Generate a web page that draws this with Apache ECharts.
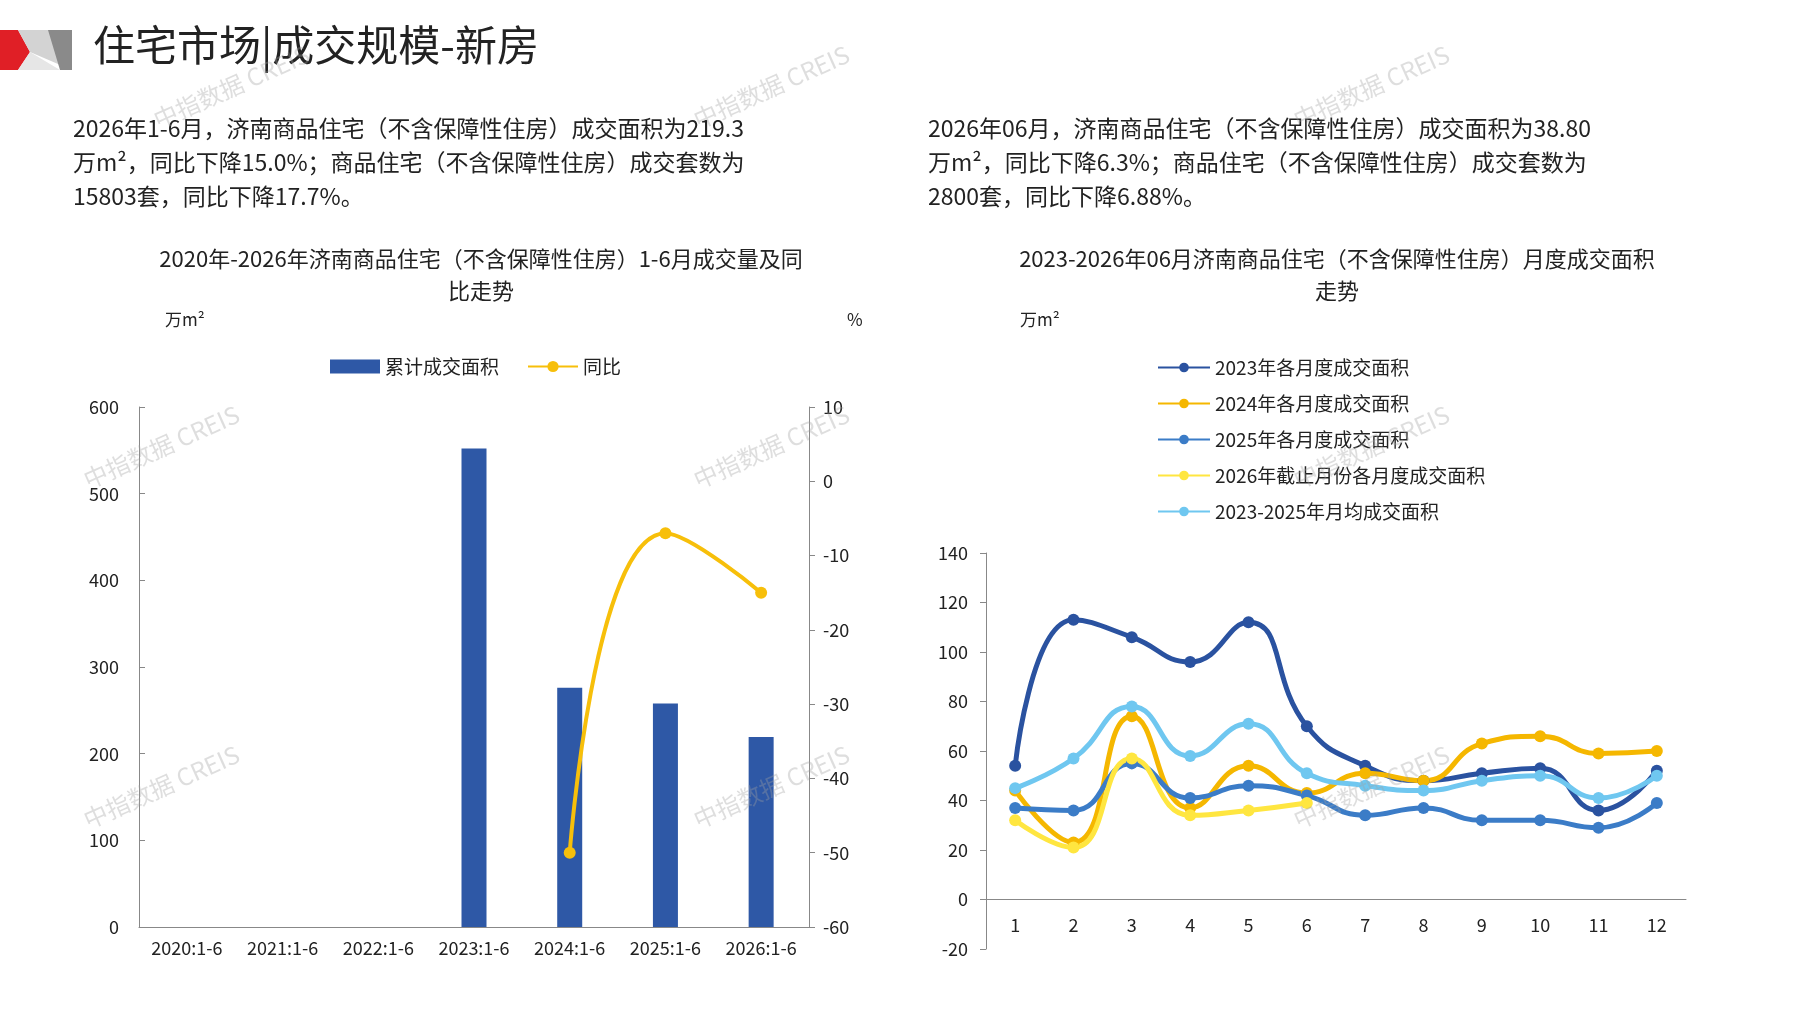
<!DOCTYPE html>
<html>
<head>
<meta charset="utf-8">
<script src="https://cdn.jsdelivr.net/npm/echarts@6/dist/echarts.min.js"></script>
<style>html,body{margin:0;padding:0;background:#fff;}#main{width:1797px;height:1010px;}</style>
</head>
<body>
<div id="main"></div>
<script>
var periods = ['2020:1-6', '2021:1-6', '2022:1-6', '2023:1-6', '2024:1-6', '2025:1-6', '2026:1-6'];
var areaTotal = [null, null, null, 552, 276, 258, 219.3];
var yoy = [null, null, null, null, -50, -7, -15];

var months = ['1', '2', '3', '4', '5', '6', '7', '8', '9', '10', '11', '12'];
var m2023 = [54, 113, 106, 96, 112, 70, 54, 48, 51, 53, 36, 52];
var m2024 = [44, 23, 74, 37, 54, 43, 51, 48, 63, 66, 59, 60];
var m2025 = [37, 36, 55, 41, 46, 42, 34, 37, 32, 32, 29, 39];
var m2026 = [32, 21, 57, 34, 36, 39];
var mAvg = [45, 57, 78, 58, 71, 51, 46, 44, 48, 50, 41, 50];

var FONT = '"Noto Sans CJK SC", sans-serif';
var chart = echarts.init(document.getElementById('main'));

function lineSeries(name, data, color) {
	return {
		name: name, type: 'line', xAxisIndex: 1, yAxisIndex: 2, data: data, smooth: 0.5,
		symbol: 'circle', symbolSize: 12, lineStyle: {width: 5, color: color},
		itemStyle: {color: color}
	};
}

function txt(x, y, s, size, align, color) {
	return {type: 'text', x: x, y: y, style: {text: s, font: size + 'px ' + FONT, fill: color || '#222', align: align || 'left', textAlign: align || 'left'}};
}

var wm = [];
[[80, 470], [80, 810], [690, 470], [690, 810], [1290, 470], [1290, 810], [150, 110], [690, 110], [1290, 110]].forEach(function (p) {
	wm.push({type: 'text', x: p[0], y: p[1], rotation: Math.PI / 7.5, z: 100,
		style: {text: '中指数据 CREIS', font: '24px ' + FONT, fill: 'rgba(160,160,160,0.35)'}});
});

var option = {
	animation: false,
	textStyle: {fontFamily: FONT},
	legend: [
		{data: [{name: '累计成交面积', icon: 'rect'}, {name: '同比'}], left: 325, top: 352, itemWidth: 50, itemHeight: 14, itemGap: 28,
			textStyle: {fontSize: 19, color: '#222'}},
		{data: ['2023年各月度成交面积', '2024年各月度成交面积', '2025年各月度成交面积', '2026年截止月份各月度成交面积', '2023-2025年月均成交面积'],
			orient: 'vertical', left: 1152, top: 353, itemWidth: 52, itemHeight: 12, itemGap: 17, textStyle: {fontSize: 19, color: '#222'}}
	],
	grid: [
		{left: 139, top: 407, width: 670, height: 520},
		{left: 986, top: 553, width: 700, height: 396}
	],
	xAxis: [
		{type: 'category', gridIndex: 0, data: periods, axisLine: {lineStyle: {color: '#888'}},
			axisTick: {lineStyle: {color: '#888'}, length: 6}, axisLabel: {fontSize: 18, color: '#222', margin: 12}},
		{type: 'category', gridIndex: 1, data: months, axisLine: {onZero: true, lineStyle: {color: '#888'}},
			axisTick: {lineStyle: {color: '#888'}, length: 6}, axisLabel: {fontSize: 18, color: '#222', margin: -33}}
	],
	yAxis: [
		{type: 'value', gridIndex: 0, min: 0, max: 600, interval: 100, splitLine: {show: false},
			axisLine: {show: true, lineStyle: {color: '#888'}}, axisTick: {show: true, inside: true, length: 6, lineStyle: {color: '#888'}},
			axisLabel: {fontSize: 18, color: '#222', margin: 20}},
		{type: 'value', gridIndex: 0, min: -60, max: 10, interval: 10, position: 'right', splitLine: {show: false},
			axisLine: {show: true, lineStyle: {color: '#888'}}, axisTick: {show: true, length: 6, lineStyle: {color: '#888'}},
			axisLabel: {fontSize: 18, color: '#222', margin: 14}},
		{type: 'value', gridIndex: 1, min: -20, max: 140, interval: 20, splitLine: {show: false},
			axisLine: {show: true, lineStyle: {color: '#888'}}, axisTick: {show: true, length: 6, lineStyle: {color: '#888'}},
			axisLabel: {fontSize: 18, color: '#222', margin: 18}}
	],
	series: [
		{name: '累计成交面积', type: 'bar', xAxisIndex: 0, yAxisIndex: 0, data: areaTotal, barWidth: 25, itemStyle: {color: '#2e58a6'}},
		{name: '同比', type: 'line', xAxisIndex: 0, yAxisIndex: 1, data: yoy, smooth: 0.5, symbol: 'circle', symbolSize: 12,
			lineStyle: {width: 4, color: '#f7bf0a'}, itemStyle: {color: '#f7bf0a'}},
		lineSeries('2023年各月度成交面积', m2023, '#2a52a0'),
		lineSeries('2024年各月度成交面积', m2024, '#f5b700'),
		lineSeries('2025年各月度成交面积', m2025, '#3b7cc7'),
		lineSeries('2026年截止月份各月度成交面积', m2026, '#ffe640'),
		lineSeries('2023-2025年月均成交面积', mAvg, '#6fc7f0')
	],
	graphic: [
		{type: 'polygon', shape: {points: [[0, 30], [18, 30], [30, 52], [18, 70], [0, 70]]}, style: {fill: '#e01f26'}},
		{type: 'polygon', shape: {points: [[18, 30], [72, 30], [72, 70], [30, 52]]}, style: {fill: '#d3d3d3'}},
		{type: 'polygon', shape: {points: [[48, 30], [72, 30], [72, 70], [60, 70]]}, style: {fill: '#8a8a8a'}},
		{type: 'polygon', shape: {points: [[18, 70], [30, 52], [60, 70]]}, style: {fill: '#e6e6e6'}},
		txt(93, 24, '住宅市场|成交规模-新房', 42),
		txt(73, 117, '2026年1-6月，济南商品住宅（不含保障性住房）成交面积为219.3', 23),
		txt(73, 151, '万m²，同比下降15.0%；商品住宅（不含保障性住房）成交套数为', 23),
		txt(73, 185, '15803套，同比下降17.7%。', 23),
		txt(928, 117, '2026年06月，济南商品住宅（不含保障性住房）成交面积为38.80', 23),
		txt(928, 151, '万m²，同比下降6.3%；商品住宅（不含保障性住房）成交套数为', 23),
		txt(928, 185, '2800套，同比下降6.88%。', 23),
		txt(481, 248, '2020年-2026年济南商品住宅（不含保障性住房）1-6月成交量及同', 22, 'center'),
		txt(481, 280, '比走势', 22, 'center'),
		txt(1337, 248, '2023-2026年06月济南商品住宅（不含保障性住房）月度成交面积', 22, 'center'),
		txt(1337, 280, '走势', 22, 'center'),
		txt(165, 311, '万m²', 17),
		txt(847, 311, '%', 17),
		txt(1020, 311, '万m²', 17)
	].concat(wm)
};
chart.setOption(option);
</script>
</body>
</html>
